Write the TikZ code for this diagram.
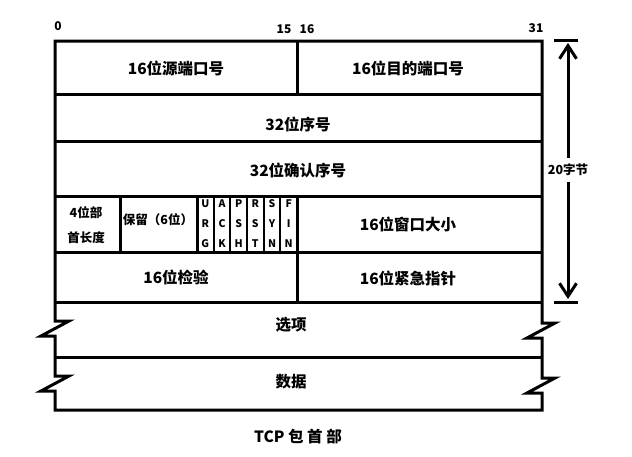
\documentclass[tikz,border=0pt]{standalone}
\usepackage{fontspec}
\setmainfont{Noto Sans CJK SC}
\usetikzlibrary{arrows.meta, positioning}
\definecolor{inkblack}{HTML}{000000}
\definecolor{paperwhite}{HTML}{FFFFFF}

\tikzset{
  frameline/.style={inkblack, line width=3pt},
  flagline/.style={inkblack, line width=2.2pt},
  fieldtext/.style={inkblack, font=\fontsize{15.5}{15.5}\selectfont\bfseries},
  smalltext/.style={inkblack, font=\fontsize{12.5}{25}\selectfont\bfseries, align=center},
  flagtext/.style={inkblack, font=\fontsize{10.5}{20}\selectfont\bfseries, align=center, inner sep=0pt},
  bittext/.style={inkblack, font=\fontsize{12}{12}\selectfont\bfseries},
  dimarrow/.style={inkblack, line width=3pt, -{Straight Barb[length=13pt, width=17pt, line width=3pt]}}
}

\begin{document}
\begin{tikzpicture}[x=1pt, y=-1pt]
  % Canvas
  \fill[paperwhite] (0,0) rectangle (632,456);
  \useasboundingbox (0,0) rectangle (632,456);

  % Outline with the two breaks on each side
  \draw[frameline] (55,41) -- (542,41) -- (542,323) -- (555,323) -- (527,338) -- (542,338)
    -- (542,378) -- (555,378) -- (527,393) -- (542,393) -- (542,410) -- (55,410)
    -- (55,391) -- (41,391) -- (69,376) -- (55,376) -- (55,336) -- (41,336) -- (69,321)
    -- (55,321) -- cycle;

  % Row lines
  \foreach \y in {94, 141, 196, 252, 302, 357} {
    \draw[frameline] (55,\y) -- (542,\y);
  }
  % Column lines
  \draw[frameline] (297,41) -- (297,94);
  \draw[frameline] (297,196) -- (297,302);
  \draw[frameline] (120,196) -- (120,252);
  \draw[frameline] (197,196) -- (197,252);
  \foreach \x in {213.7, 230.3, 247, 263.7, 280.3} {
    \draw[flagline] (\x,196) -- (\x,252);
  }

  % Bit numbers
  \node[bittext] (bit0) at (58,26) {0};
  \node[bittext] (bit15) at (284,29) {15};
  \node[bittext] (bit16) at (307,29) {16};
  \node[bittext] (bit31) at (536,28) {31};

  % Fields
  \node[fieldtext] (srcport) at (176,68) {16位源端口号};
  \node[fieldtext] (dstport) at (408,68) {16位目的端口号};
  \node[fieldtext] (seqnum) at (298,124) {32位序号};
  \node[fieldtext] (acknum) at (298,170) {32位确认序号};
  \node[smalltext] (hdrlen) at (86,225) {4位部\\首长度};
  \node[smalltext] (reserved) at (158,220) {保留（6位）};
  \foreach \a/\b/\c [count=\i] in {U/R/G, A/C/K, P/S/H, R/S/T, S/Y/N, F/I/N} {
    \node[flagtext] (flag\i) at ({197+(\i-0.5)*16.67},224) {\a\\\b\\\c};
  }
  \node[fieldtext] (window) at (408,224) {16位窗口大小};
  \node[fieldtext] (checksum) at (176,277) {16位检验};
  \node[fieldtext] (urgent) at (408,279) {16位紧急指针};
  \node[fieldtext] (options) at (291,325) {选项};
  \node[fieldtext] (payload) at (291,382) {数据};

  % Header size marker
  \node[smalltext, font=\fontsize{12.5}{12.5}\selectfont\bfseries, inner sep=6pt] (bytes) at (568,170) {20字节};
  \coordinate (toptick) at (568,40);
  \coordinate (bottick) at (568,302);
  \draw[frameline] (554,40) -- (578,40);
  \draw[frameline] (554,302) -- (578,302);
  \draw[dimarrow, shorten >=3pt] (bytes) -- (toptick);
  \draw[dimarrow, shorten >=3pt] (bytes) -- (bottick);

  % Caption
  \node[fieldtext] (caption) at (298,437) {TCP 包 首 部};
\end{tikzpicture}
\end{document}
